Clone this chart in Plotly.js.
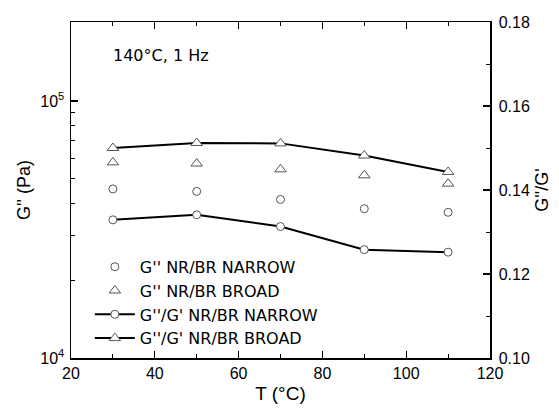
<!DOCTYPE html>
<html>
<head>
<meta charset="utf-8">
<script src="https://cdn.plot.ly/plotly-3.0.1.min.js"></script>
<style>
  html, body { margin: 0; padding: 0; background: #ffffff; }
  #chart { width: 559px; height: 414px; }
</style>
</head>
<body>
<div id="chart"></div>
<script>
// Test temperatures (°C)
const temperature = [30, 50, 70, 90, 110];

// Loss modulus G'' (Pa), left log axis
const lossNarrow = [45500, 44500, 41400, 38100, 36900];
const lossBroad  = [57700, 57100, 54200, 51400, 47700];

// Loss factor G''/G', right linear axis
const ratioNarrow = [0.1329, 0.1341, 0.1313, 0.1258, 0.1252];
const ratioBroad  = [0.1500, 0.1512, 0.1511, 0.1482, 0.1443];

// Series names
const names = [
  "G'' NR/BR NARROW",
  "G'' NR/BR BROAD",
  "G''/G' NR/BR NARROW",
  "G''/G' NR/BR BROAD"
];

// Axis ticks
const xMajor = [20, 40, 60, 80, 100, 120];
const xMinor = [30, 50, 70, 90, 110];
const yLogMajor = [1e4, 1e5];
const yLogLabels = ['10<sup>4</sup>', '10<sup>5</sup>'];
const yLogMinor = [2e4, 3e4, 4e4, 5e4, 6e4, 7e4, 8e4, 9e4];
const yRatioMajor = [0.10, 0.12, 0.14, 0.16, 0.18];
const yRatioMinor = [0.11, 0.13, 0.15, 0.17];

const markEdge = '#555555';
const legendFont = { family: 'DejaVu Sans', size: 16, color: '#000000' };
const tickFont = { family: 'Liberation Sans, Arial, sans-serif', size: 16, color: '#000000' };
const titleFont = { family: 'Liberation Sans, Arial, sans-serif', size: 18, color: '#000000' };

const traces = [
  {
    x: temperature, y: lossNarrow, name: names[0], mode: 'markers',
    xaxis: 'x', yaxis: 'y', legendgroup: 'a',
    marker: { symbol: 'circle-open', size: 8, color: markEdge, line: { width: 1, color: markEdge } }
  },
  {
    x: temperature, y: lossBroad, name: names[1], mode: 'markers',
    xaxis: 'x', yaxis: 'y', legendgroup: 'b',
    marker: { symbol: 'triangle-up-open', size: 10, color: markEdge, line: { width: 1, color: markEdge } }
  },
  {
    x: temperature, y: ratioNarrow, name: names[2], mode: 'lines+markers',
    xaxis: 'x', yaxis: 'y2', legendgroup: 'c',
    line: { color: '#000000', width: 2 },
    marker: { symbol: 'circle', size: 8, color: '#ffffff', line: { width: 1, color: markEdge } }
  },
  {
    x: temperature, y: ratioBroad, name: names[3], mode: 'lines+markers',
    xaxis: 'x', yaxis: 'y2', legendgroup: 'd',
    line: { color: '#000000', width: 2 },
    marker: { symbol: 'triangle-up', size: 10, color: '#ffffff', line: { width: 1, color: markEdge } }
  }
];

const layout = {
  width: 559,
  height: 414,
  margin: { l: 71, r: 69, t: 22, b: 56, pad: 0 },
  paper_bgcolor: '#ffffff',
  plot_bgcolor: '#ffffff',
  showlegend: true,
  legend: {
    x: 0.045, y: 0.322, xanchor: 'left', yanchor: 'top',
    bgcolor: 'rgba(0,0,0,0)', borderwidth: 0,
    font: legendFont, tracegroupgap: 0, traceorder: 'normal',
    itemwidth: 40
  },
  xaxis: {
    range: [20, 120],
    tickmode: 'array', tickvals: xMajor,
    ticks: 'inside', ticklen: 7, tickwidth: 1.2, tickcolor: '#000000',
    minor: { tickmode: 'array', tickvals: xMinor, ticks: 'inside', ticklen: 4, tickwidth: 1, tickcolor: '#000000' },
    showline: true, linecolor: '#000000', linewidth: 1.5, mirror: 'ticks',
    showgrid: false, zeroline: false,
    tickfont: tickFont, ticklabelstandoff: 0,
    title: { text: 'T (°C)', font: { family: titleFont.family, size: 19, color: '#000000' }, standoff: 6 }
  },
  yaxis: {
    type: 'log',
    range: [4, Math.log10(2.03e5)],
    tickmode: 'array', tickvals: yLogMajor, ticktext: yLogLabels,
    ticks: 'inside', ticklen: 7, tickwidth: 1.2, tickcolor: '#000000',
    minor: { tickmode: 'array', tickvals: yLogMinor, ticks: 'inside', ticklen: 4, tickwidth: 1, tickcolor: '#000000' },
    showline: true, linecolor: '#000000', linewidth: 1.5,
    showgrid: false, zeroline: false,
    tickfont: tickFont, ticklabelstandoff: 2,
    title: { text: "G'' (Pa)", font: titleFont, standoff: 5 }
  },
  yaxis2: {
    overlaying: 'y', side: 'right',
    range: [0.10, 0.18],
    tickmode: 'array', tickvals: yRatioMajor, tickformat: '.2f',
    ticks: 'inside', ticklen: 7, tickwidth: 1.2, tickcolor: '#000000',
    minor: { tickmode: 'array', tickvals: yRatioMinor, ticks: 'inside', ticklen: 4, tickwidth: 1, tickcolor: '#000000' },
    showline: true, linecolor: '#000000', linewidth: 1.5,
    showgrid: false, zeroline: false,
    tickfont: tickFont, ticklabelstandoff: 4,
    title: { text: "G''/G'", font: titleFont, standoff: 6 }
  },
  annotations: [
    {
      text: '140°C, 1 Hz', xref: 'paper', yref: 'paper',
      x: 0.095, y: 0.9, xanchor: 'left', yanchor: 'middle',
      showarrow: false, font: { family: 'DejaVu Sans', size: 16, color: '#000000' }
    }
  ]
};

Plotly.newPlot('chart', traces, layout, { displayModeBar: false, staticPlot: true });
</script>
</body>
</html>
